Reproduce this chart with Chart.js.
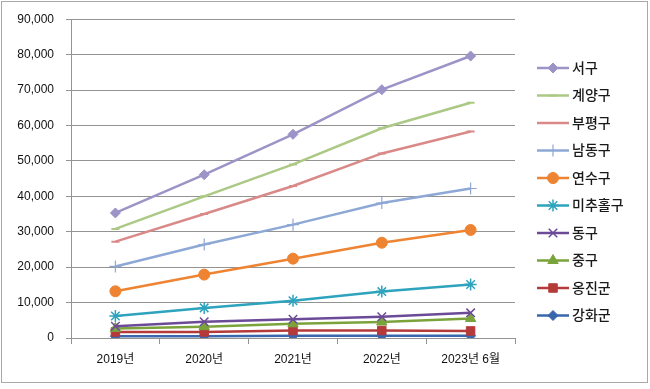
<!DOCTYPE html>
<html>
<head>
<meta charset="utf-8">
<script src="https://cdn.jsdelivr.net/npm/chart.js@4/dist/chart.umd.min.js"></script>
<style>
  html, body { margin:0; padding:0; background:#fff; }
  #wrap { width:650px; height:389px; position:relative; }
</style>
</head>
<body>
<div id="wrap"><canvas id="popChart" width="650" height="389"></canvas></div>
<script>
const years = ['2019년', '2020년', '2021년', '2022년', '2023년 6월'];
const districts = ['서구', '계양구', '부평구', '남동구', '연수구', '미추홀구', '동구', '중구', '옹진군', '강화군'];

const seogu     = [35300, 46100, 57500, 70100, 79600];
const gyeyang   = [30800, 40000, 49000, 59200, 66400];
const bupyeong  = [27200, 35000, 42900, 52100, 58300];
const namdong   = [20200, 26400, 32000, 38100, 42200];
const yeonsu    = [13200, 17900, 22400, 26900, 30500];
const michuhol  = [6200, 8500, 10500, 13100, 15100];
const donggu    = [3300, 4600, 5300, 6000, 7100];
const junggu    = [2700, 3200, 4000, 4500, 5500];
const ongjin    = [1700, 1700, 2100, 2100, 2000];
const ganghwa   = [500, 500, 600, 600, 600];

const yTicks = [0, 10000, 20000, 30000, 40000, 50000, 60000, 70000, 80000, 90000];

const C = {
  seogu: '#9c93c6', gyeyang: '#abc985', bupyeong: '#d98a88', namdong: '#8ea8d6',
  yeonsu: '#ee8432', michuhol: '#2ea3bd', donggu: '#6b4a97', junggu: '#7ba33c',
  ongjin: '#b53a3a', ganghwa: '#3a66ad'
};

const FONT = '"Liberation Sans", "Noto Sans CJK KR", sans-serif';
const GRID = '#939393';

function series(label, data, color, pointStyle, radius, extra){
  return Object.assign({
    label, data,
    borderColor: color, backgroundColor: color,
    pointBackgroundColor: color, pointBorderColor: color,
    borderWidth: 2.5, pointStyle, pointRadius: radius, pointBorderWidth: 1,
    pointHoverRadius: radius, tension: 0, fill: false
  }, extra || {});
}

const datasets = [
  series(districts[0], seogu, C.seogu, 'rectRot', 5),
  series(districts[1], gyeyang, C.gyeyang, 'line', 4, { pointBorderWidth: 2 }),
  series(districts[2], bupyeong, C.bupyeong, 'line', 4, { pointBorderWidth: 2 }),
  series(districts[3], namdong, C.namdong, 'cross', 6, { pointBorderWidth: 1.2 }),
  series(districts[4], yeonsu, C.yeonsu, 'circle', 5.5),
  series(districts[5], michuhol, C.michuhol, 'star', 6, { pointBorderWidth: 1.5 }),
  series(districts[6], donggu, C.donggu, 'crossRot', 6, { pointBorderWidth: 1.5 }),
  series(districts[7], junggu, C.junggu, 'triangle', 6),
  series(districts[8], ongjin, C.ongjin, 'rect', 6),
  series(districts[9], ganghwa, C.ganghwa, 'rectRot', 5)
];

// frame + right-side legend with line and marker like the original
const frameLegend = {
  id: 'frameLegend',
  beforeDraw(chart){
    const ctx = chart.ctx;
    ctx.save();
    ctx.fillStyle = '#fff';
    ctx.fillRect(0, 0, chart.width, chart.height);
    ctx.strokeStyle = '#a8a8a8';
    ctx.lineWidth = 1;
    ctx.strokeRect(1.5, 1.5, 646, 381);
    ctx.restore();
  },
  afterDraw(chart){
    const ctx = chart.ctx;
    ctx.save();
    chart.data.datasets.forEach((ds, i) => {
      const y = 68 + i * 27.5;
      ctx.strokeStyle = ds.borderColor;
      ctx.lineWidth = 2.5;
      ctx.beginPath();
      ctx.moveTo(537, y);
      ctx.lineTo(569, y);
      ctx.stroke();
      ctx.fillStyle = ds.pointBackgroundColor;
      ctx.strokeStyle = ds.pointBorderColor;
      ctx.lineWidth = ds.pointBorderWidth;
      Chart.helpers.drawPoint(ctx, {
        pointStyle: ds.pointStyle, radius: ds.pointRadius, rotation: 0, borderWidth: ds.pointBorderWidth
      }, 553, y);
      ctx.fillStyle = '#1a1a1a';
      ctx.font = '500 14px ' + FONT;
      ctx.textBaseline = 'middle';
      ctx.textAlign = 'left';
      ctx.fillText(ds.label, 572, y + 1);
    });
    ctx.restore();
  }
};

new Chart(document.getElementById('popChart'), {
  type: 'line',
  data: { labels: years, datasets },
  options: {
    responsive: false,
    animation: false,
    layout: { padding: { left: 0, top: 17, right: 135, bottom: 21 } },
    plugins: { legend: { display: false }, tooltip: { enabled: false } },
    scales: {
      x: {
        offset: true,
        grid: { display: true, drawOnChartArea: false, drawTicks: true, tickLength: 6, offset: true, color: GRID },
        border: { display: true, color: GRID, width: 1 },
        ticks: { color: '#111', padding: 8, font: { family: FONT, size: 12 }, maxRotation: 0, autoSkip: false },
        afterFit(scale){ scale.height = 30; }
      },
      y: {
        min: 0, max: 90000,
        afterBuildTicks(scale){ scale.ticks = yTicks.map(v => ({ value: v })); },
        grid: { color: GRID, lineWidth: 1, drawTicks: true, tickLength: 5 },
        border: { display: true, color: GRID, width: 1 },
        ticks: {
          color: '#111', padding: 12, font: { family: FONT, size: 12 },
          callback: v => v.toLocaleString('en-US')
        },
        afterFit(scale){ scale.width = 71; }
      }
    }
  },
  plugins: [frameLegend]
});
</script>
</body>
</html>
